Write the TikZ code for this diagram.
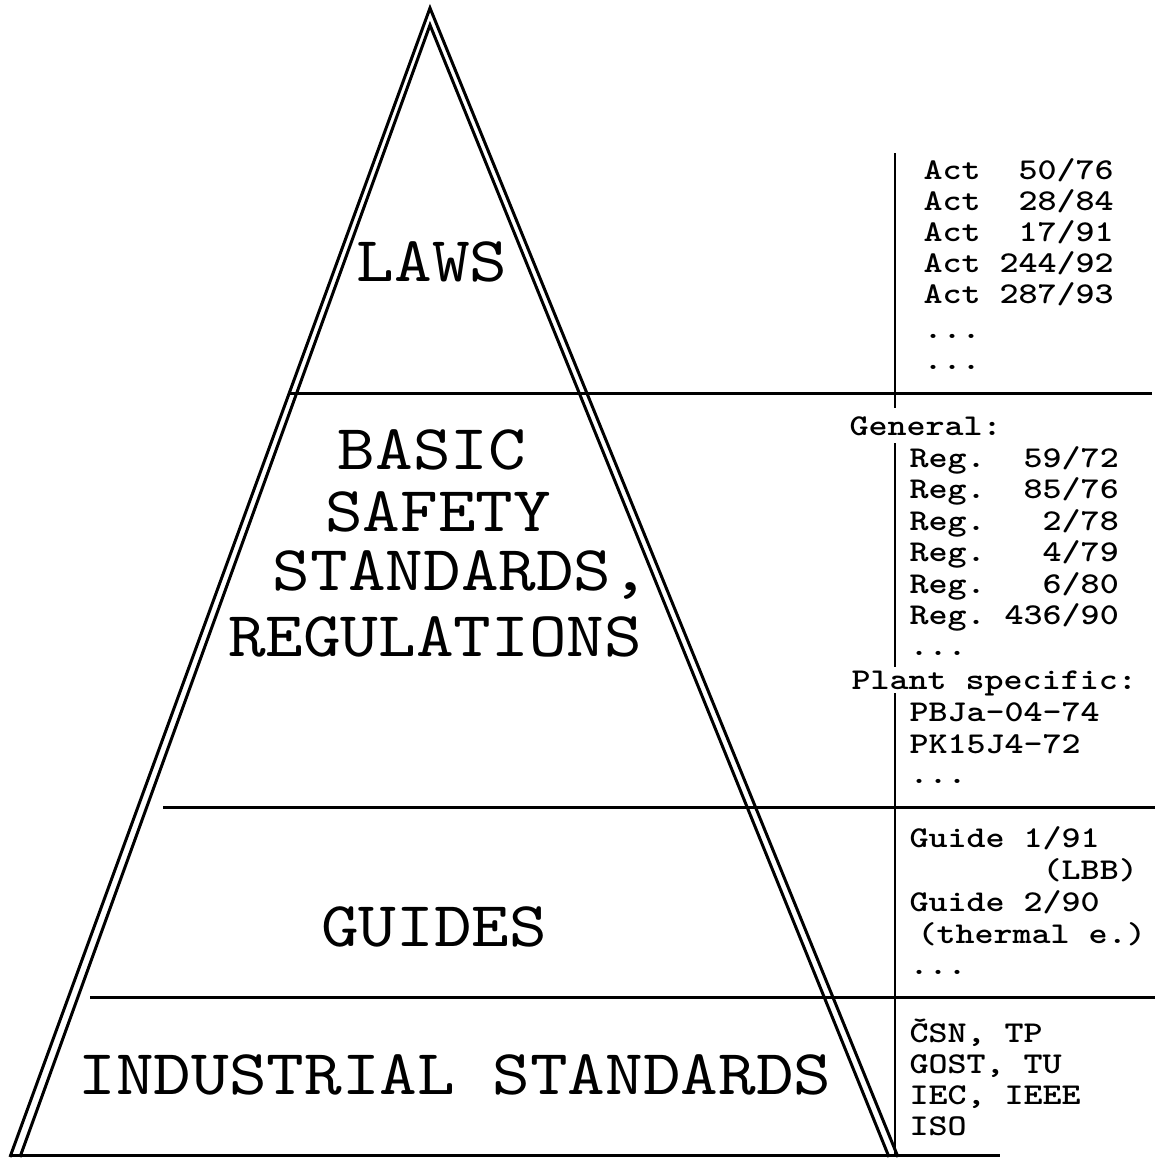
\documentclass[tikz,border=0pt]{standalone}
\usepackage{fontspec}
\setmonofont[FakeStretch=1.12]{lmmono10-regular.otf}
\newfontfamily\listfont[FakeStretch=1.2]{lmmonolt10-bold.otf}
\begin{document}
\begin{tikzpicture}[x=0.5pt,y=-0.5pt,line width=1.5pt,
  big/.style={font=\ttfamily\fontsize{32}{31}\selectfont,inner sep=0pt},
  small/.style={font=\listfont\fontsize{15.1}{15}\selectfont,anchor=base west,inner sep=0pt}]
\useasboundingbox (0,0) rectangle (1155,1158);
% pyramid, double outline
\coordinate (apexout) at (430,8);
\coordinate (apexin) at (430,25);
\draw (10,1157) -- (apexout) -- (898,1157);
\draw (20,1157) -- (apexin) -- (889,1157);
\draw (290,393) -- (1152,393);
\draw (163,807) -- (1155,807);
\draw (90,997) -- (1155,997);
\draw (10,1155) -- (1000,1155);
\draw[line width=1pt] (895,153) -- (895,408);
\draw[line width=1pt] (895,443) -- (895,667);
\draw[line width=1pt] (895,693) -- (895,1157);
% levels
\node[big] (laws) at (432,262) {LAWS};
\node[big] (basic) at (432,450) {BASIC};
\node[big] (safety) at (438,512) {SAFETY};
\node[big] (standards) at (461,575) {STANDARDS,};
\node[big] (regulations) at (435,637) {REGULATIONS};
\node[big] (guides) at (434,927) {GUIDES};
\node[big] (industrial) at (455,1075) {INDUSTRIAL STANDARDS};
% right column
\foreach \t [count=\i from 0] in {Act~~50/76,Act~~28/84,Act~~17/91,Act~244/92,Act~287/93}
  \node[small] (act\i) at (922,{179+31*\i}) {\t};
\node[small] (actdots1) at (922,338) {...};
\node[small] (actdots2) at (922,369) {...};
\node[small] (general) at (848,435) {General:};
\foreach \t [count=\i from 0] in {Reg.~~59/72,Reg.~~85/76,Reg.~~~2/78,Reg.~~~4/79,Reg.~~~6/80,Reg.~436/90}
  \node[small] (reg\i) at (908,{467+31.5*\i}) {\t};
\node[small] (regdots) at (908,655) {...};
\node[small] (plant) at (850,689) {Plant~specific:};
\node[small] (pbj) at (908,721) {PBJa-04-74};
\node[small] (pk) at (908,753) {PK15J4-72};
\node[small] (plantdots) at (908,783) {...};
\foreach \t [count=\i from 0] in {Guide~1/91,~~~~~~~(LBB),Guide~2/90}
  \node[small] (guide\i) at (908,{847+32*\i}) {\t};
\node[small] (thermal) at (916,943) {(thermal~e.)};
\node[small] (guidedots) at (908,974) {...};
\foreach \t [count=\i from 0] in {{ČSN,~TP},{GOST,~TU},{IEC,~IEEE},ISO}
  \node[small] (ind\i) at (908,{1042+31*\i}) {\t};
\end{tikzpicture}
\end{document}
